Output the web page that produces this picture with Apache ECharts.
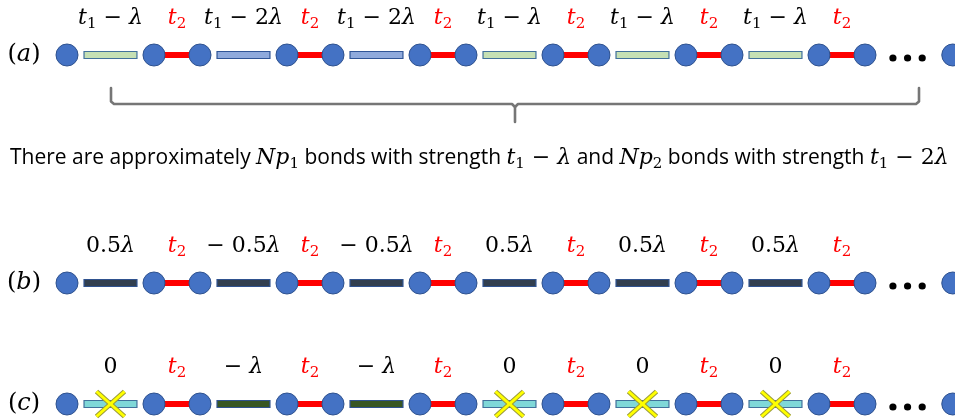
<!DOCTYPE html>
<html><head><meta charset="utf-8">
<script src="https://cdn.jsdelivr.net/npm/echarts@6/dist/echarts.min.js"></script>
<style>html,body{margin:0;padding:0;background:#fff}#c{width:955px;height:419px}</style>
</head><body><div id="c"></div>
<script>
// ---------------- data ----------------
const rowLabels = ['(a)', '(b)', '(c)'];
const bondLabelsA = ['t_1 − λ', 't_1 − 2λ', 't_1 − 2λ', 't_1 − λ', 't_1 − λ', 't_1 − λ'];
const bondKindsA  = ['green', 'blue', 'blue', 'green', 'green', 'green'];
const bondLabelsB = ['0.5λ', '− 0.5λ', '− 0.5λ', '0.5λ', '0.5λ', '0.5λ'];
const bondKindsB  = ['navy', 'navy', 'navy', 'navy', 'navy', 'navy'];
const bondLabelsC = ['0', '− λ', '− λ', '0', '0', '0'];
const bondKindsC  = ['cut', 'olive', 'olive', 'cut', 'cut', 'cut'];
const couplingLabel = 't_2';
const noteText = 'There are approximately $Np_1$ bonds with strength $t_1 − λ$ and $Np_2$ bonds with strength $t_1 − 2λ$';

// ---------------- layout ----------------
const W = 955, H = 419, X0 = 67, PERIOD = 133;
const toU = px => (px - X0) / PERIOD;
const rowY = [55, 283, 404];
const LABEL_DY = -37;
const PAIR = 0.654, BAR_S = 0.128, BAR_E = 0.526, BAR_H = 7;
const NODE_R = 11;
const TAIL_NODES = [6, 6.66];
const DOTS = [6.21, 6.32, 6.43];
const ROW_LABEL_U = toU(24);
const BRACE = {l: toU(111), r: toU(919), top: 88, mid: 104, tip: 122};
const NOTE = {x: toU(10), y: 158};

const barStyles = {
  green: {fill: '#c5e0b4', stroke: '#41719c'},
  blue:  {fill: '#8faadc', stroke: '#2f5597'},
  navy:  {fill: '#323f4f', stroke: '#2f528f'},
  olive: {fill: '#385723', stroke: '#2f528f'},
  cut:   {fill: '#7fd8d8', stroke: '#41719c', cut: true}
};

const MATH_FONT = "'DejaVu Serif', 'Liberation Serif', serif";
const TEXT_FONT = "'Open Sans', 'Liberation Sans', sans-serif";
function mstyles(prefix, size, color) {
  const o = {};
  o[prefix + 'it'] = {fontFamily: MATH_FONT, fontStyle: 'italic', fontSize: size, lineHeight: size + 6, fill: color};
  o[prefix + 'up'] = {fontFamily: MATH_FONT, fontSize: size, lineHeight: size + 6, fill: color};
  o[prefix + 'sub'] = {fontFamily: MATH_FONT, fontSize: Math.round(size * 0.68), lineHeight: Math.round(size * 0.6), verticalAlign: 'bottom', fill: color};
  return o;
}
const rich = Object.assign({},
  mstyles('', 22, '#000'), mstyles('r', 22, '#ff0000'), mstyles('s', 22, '#000'),
  {p: {fontFamily: TEXT_FONT, fontSize: 21, lineHeight: 26, fill: '#000'}},
  {lab: {fontFamily: MATH_FONT, fontSize: 24, lineHeight: 28, fill: '#000'},
   labit: {fontFamily: MATH_FONT, fontStyle: 'italic', fontSize: 24, lineHeight: 28, fill: '#000'}});

function mathRich(str, pre) {
  const toks = [];
  for (let i = 0; i < str.length; i++) {
    const ch = str[i];
    let st;
    if (ch === '_') { st = 'sub'; toks.push([pre + st, str[++i]]); continue; }
    st = /[A-Za-zλ]/.test(ch) ? 'it' : 'up';
    const last = toks[toks.length - 1];
    if (last && last[0] === pre + st) last[1] += ch; else toks.push([pre + st, ch]);
  }
  return toks.map(t => '{' + t[0] + '|' + t[1] + '}').join('');
}
function sentenceRich(str) {
  return str.split('$').map((part, i) => i % 2 ? mathRich(part, 's') : (part ? '{p|' + part + '}' : '')).join('');
}

const rows = [
  {labels: bondLabelsA, kinds: bondKindsA},
  {labels: bondLabelsB, kinds: bondKindsB},
  {labels: bondLabelsC, kinds: bondKindsC}
];

function nodeEl(p) {
  return {type: 'circle', shape: {cx: p[0], cy: p[1], r: NODE_R}, style: {fill: '#4472c4', stroke: '#2f528f', lineWidth: 1}};
}
function textEl(p, text) {
  return {type: 'text', x: p[0], y: p[1], style: {text: text, rich: rich, align: 'center', verticalAlign: 'middle'}};
}

function makeRowSeries(r) {
  const row = rows[r];
  const data = row.labels.map((lab, k) => ({value: [k, rowY[r]], role: 'cell', label: lab, kind: row.kinds[k]}));
  data.push({value: [TAIL_NODES[0], rowY[r]], role: 'tail'});
  return {
    type: 'custom', coordinateSystem: 'cartesian2d', silent: true, data: data,
    renderItem: function (params, api) {
      const d = data[params.dataIndex];
      const y = rowY[r];
      const P = (u, yy) => api.coord([u, yy === undefined ? y : yy]);
      const ch = [];
      if (d.role === 'cell') {
        const k = d.value[0];
        const a = P(k), b = P(k + PAIR), c = P(k + 1);
        ch.push({type: 'line', shape: {x1: b[0], y1: b[1], x2: c[0], y2: c[1]}, style: {stroke: '#ff0000', lineWidth: 6}});
        const s = P(k + BAR_S), e = P(k + BAR_E);
        const st = barStyles[d.kind];
        ch.push({type: 'rect', shape: {x: s[0], y: s[1] - BAR_H / 2, width: e[0] - s[0], height: BAR_H}, style: {fill: st.fill, stroke: st.stroke, lineWidth: 1.2}});
        if (st.cut) {
          const cx = (s[0] + e[0]) / 2, cy = s[1];
          const X = [[-14, -12.5, 14, 12.5], [-14, 12.5, 14, -12.5]];
          X.forEach(q => ch.push({type: 'line', shape: {x1: cx + q[0], y1: cy + q[1], x2: cx + q[2], y2: cy + q[3]}, style: {stroke: '#9a9a3a', lineWidth: 5}}));
          X.forEach(q => ch.push({type: 'line', shape: {x1: cx + q[0], y1: cy + q[1], x2: cx + q[2], y2: cy + q[3]}, style: {stroke: '#ffff00', lineWidth: 3}}));
        }
        ch.push(nodeEl(a), nodeEl(b));
        ch.push(textEl(P(k + (BAR_S + BAR_E) / 2, y + LABEL_DY), mathRich(d.label, '')));
        ch.push(textEl(P(k + (PAIR + 1) / 2, y + LABEL_DY), mathRich(couplingLabel, 'r')));
      } else {
        TAIL_NODES.forEach(u => ch.push(nodeEl(P(u))));
        DOTS.forEach(u => { const p = P(u, y + 3); ch.push({type: 'circle', shape: {cx: p[0], cy: p[1], r: 3.6}, style: {fill: '#000'}}); });
        const lbl = rowLabels[r];
        ch.push(textEl(P(ROW_LABEL_U), '{lab|' + lbl[0] + '}{labit|' + lbl.slice(1, -1) + '}{lab|' + lbl.slice(-1) + '}'));
      }
      return {type: 'group', children: ch};
    }
  };
}

const noteSeries = {
  type: 'custom', coordinateSystem: 'cartesian2d', silent: true,
  data: [[NOTE.x, NOTE.y]],
  renderItem: function (params, api) {
    const L = api.coord([BRACE.l, BRACE.top]), R = api.coord([BRACE.r, BRACE.top]);
    const m = api.coord([(BRACE.l + BRACE.r) / 2, BRACE.mid]);
    const tip = api.coord([(BRACE.l + BRACE.r) / 2, BRACE.tip]);
    const yb = m[1], mx = m[0];
    const ls = {stroke: '#767676', lineWidth: 2.6, fill: null, lineJoin: 'round', lineCap: 'round'};
    const n = api.coord([NOTE.x, NOTE.y]);
    return {type: 'group', children: [
      {type: 'polyline', shape: {points: [[L[0], L[1]], [L[0], yb - 2.5], [L[0] + 3, yb], [mx - 3, yb], [mx, yb + 3], [tip[0], tip[1]]]}, style: ls},
      {type: 'polyline', shape: {points: [[mx, yb + 3], [mx + 3, yb], [R[0] - 3, yb], [R[0], yb - 2.5], [R[0], R[1]]]}, style: ls},
      {type: 'text', x: n[0], y: n[1], style: {text: sentenceRich(noteText), rich: rich, align: 'left', verticalAlign: 'middle'}}
    ]};
  }
};

const chart = echarts.init(document.getElementById('c'), null, {renderer: 'canvas'});
chart.setOption({
  animation: false,
  backgroundColor: '#fff',
  grid: {left: 0, right: 0, top: 0, bottom: 0},
  xAxis: {type: 'value', min: toU(0), max: toU(W), show: false},
  yAxis: {type: 'value', min: 0, max: H, inverse: true, show: false},
  series: [makeRowSeries(0), makeRowSeries(1), makeRowSeries(2), noteSeries]
});
</script></body></html>
